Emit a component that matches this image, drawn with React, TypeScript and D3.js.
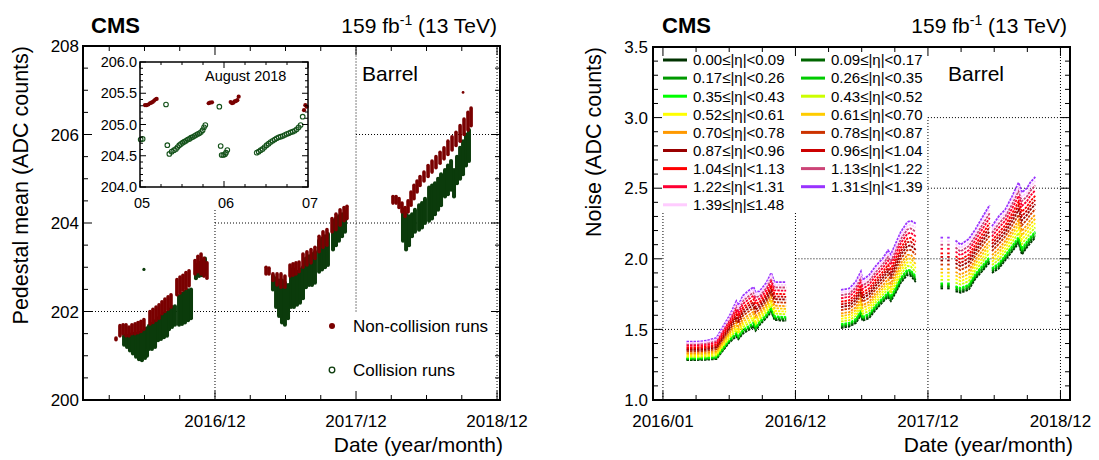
import React from "react";
import * as d3 from "d3";

type Streak = [number, number, number]; // [decimal year, low ADC, high ADC]
type Pt = [number, number];

const FONT = "'Liberation Sans', Arial, Helvetica, sans-serif";
const RED = "#7a0000";
const GREEN = "#0b3b0b";

// ---------------- Left panel: pedestal mean vs date ----------------
const leftYMajor = [200, 202, 204, 206, 208];
const leftXMajorYears = [2017, 2018, 2019];
const leftXLabels = ["2016/12", "2017/12", "2018/12"];

const collisionStreaks: Streak[] = [
  // 2016
  [2016.355, 201.25, 201.45], [2016.376, 201.2, 201.45], [2016.397, 201.12, 201.48], [2016.418, 201.05, 201.5],
  [2016.44, 200.98, 201.5], [2016.461, 200.92, 201.52], [2016.482, 200.9, 201.55], [2016.504, 200.95, 201.6],
  [2016.518, 201.0, 201.62], [2016.532, 201.15, 201.68], [2016.553, 201.15, 201.72], [2016.575, 201.2, 201.78],
  [2016.596, 201.35, 201.85], [2016.617, 201.38, 201.9], [2016.638, 201.42, 201.95], [2016.66, 201.45, 201.98],
  [2016.674, 201.6, 202.05], [2016.695, 201.65, 202.1], [2016.716, 201.7, 202.12],
  [2016.745, 201.7, 202.35], [2016.766, 201.72, 202.4], [2016.787, 201.75, 202.45], [2016.809, 201.8, 202.48], [2016.83, 201.85, 202.5],
  [2016.865, 202.75, 203.05], [2016.887, 202.8, 203.1], [2016.908, 202.82, 203.15], [2016.929, 202.85, 203.2],
  // 2017
  [2017.411, 202.5, 202.8], [2017.433, 202.1, 202.75], [2017.454, 201.9, 202.7], [2017.475, 201.75, 202.7],
  [2017.496, 201.7, 202.65], [2017.518, 201.85, 202.6],
  [2017.539, 202.1, 202.95], [2017.56, 202.1, 202.95], [2017.582, 202.15, 202.9], [2017.603, 202.2, 202.95], [2017.624, 202.3, 203.0],
  [2017.645, 202.55, 203.2], [2017.667, 202.6, 203.25], [2017.688, 202.6, 203.3], [2017.709, 202.65, 203.35],
  [2017.738, 202.9, 203.6], [2017.759, 202.95, 203.65], [2017.78, 203.0, 203.7], [2017.801, 203.05, 203.75],
  [2017.837, 203.4, 204.05], [2017.858, 203.5, 204.1], [2017.879, 203.6, 204.15], [2017.901, 203.7, 204.2], [2017.922, 203.8, 204.25],
  // 2018
  [2018.333, 203.6, 204.3], [2018.355, 203.4, 204.2], [2018.376, 203.5, 204.15], [2018.397, 203.7, 204.2],
  [2018.418, 203.8, 204.3], [2018.447, 203.85, 204.4], [2018.468, 203.9, 204.45], [2018.489, 204.0, 204.55],
  [2018.518, 204.05, 204.8], [2018.539, 204.1, 204.85], [2018.56, 204.2, 204.9], [2018.582, 204.3, 205.0],
  [2018.603, 204.4, 205.1], [2018.631, 204.6, 205.2], [2018.652, 204.65, 205.3], [2018.674, 204.75, 205.4],
  [2018.695, 204.6, 205.2], [2018.716, 204.9, 205.5], [2018.738, 205.0, 205.7], [2018.759, 205.1, 205.85],
  [2018.78, 205.3, 206.0], [2018.801, 205.4, 206.1],
];

const nonCollisionStreaks: Streak[] = [
  // 2016
  [2016.298, 201.36, 201.4], [2016.326, 201.45, 201.68], [2016.348, 201.5, 201.7], [2016.369, 201.45, 201.7],
  [2016.39, 201.45, 201.65], [2016.411, 201.5, 201.7], [2016.433, 201.5, 201.72], [2016.454, 201.52, 201.75],
  [2016.475, 201.55, 201.78], [2016.496, 201.6, 201.82], [2016.539, 201.72, 202.0], [2016.56, 201.75, 202.05],
  [2016.582, 201.8, 202.1], [2016.603, 201.85, 202.15], [2016.624, 201.95, 202.22], [2016.645, 202.0, 202.28],
  [2016.667, 202.05, 202.33], [2016.688, 202.1, 202.38], [2016.73, 202.38, 202.72], [2016.752, 202.42, 202.78],
  [2016.773, 202.48, 202.82], [2016.794, 202.52, 202.88], [2016.816, 202.58, 202.92], [2016.858, 202.85, 203.15],
  [2016.879, 202.9, 203.25], [2016.901, 202.85, 203.3], [2016.922, 202.8, 203.2], [2016.943, 202.75, 203.1],
  // 2017
  [2017.362, 202.85, 203.0], [2017.383, 202.85, 202.98], [2017.411, 202.7, 202.85], [2017.44, 202.6, 202.85],
  [2017.468, 202.55, 202.85], [2017.496, 202.55, 202.8], [2017.532, 202.8, 203.05], [2017.553, 202.82, 203.08],
  [2017.574, 202.85, 203.1], [2017.596, 202.9, 203.12], [2017.624, 203.0, 203.3], [2017.652, 203.05, 203.35],
  [2017.681, 203.1, 203.4], [2017.709, 203.2, 203.45], [2017.738, 203.35, 203.7], [2017.766, 203.45, 203.8],
  [2017.794, 203.5, 203.85], [2017.83, 203.8, 204.1], [2017.858, 203.85, 204.2], [2017.887, 203.95, 204.3],
  [2017.915, 204.05, 204.35], [2017.936, 204.1, 204.38],
  // 2018
  [2018.262, 204.45, 204.6], [2018.284, 204.45, 204.6], [2018.305, 204.35, 204.55], [2018.326, 204.25, 204.45],
  [2018.348, 204.15, 204.35], [2018.369, 204.25, 204.5], [2018.39, 204.4, 204.7], [2018.411, 204.55, 204.85],
  [2018.433, 204.7, 204.95], [2018.454, 204.85, 205.05], [2018.482, 204.95, 205.15], [2018.511, 205.05, 205.3],
  [2018.539, 205.15, 205.4], [2018.567, 205.25, 205.5], [2018.596, 205.35, 205.6], [2018.624, 205.45, 205.7],
  [2018.652, 205.55, 205.85], [2018.681, 205.65, 205.95], [2018.709, 205.75, 206.05], [2018.738, 205.85, 206.2],
  [2018.766, 206.0, 206.35], [2018.794, 206.1, 206.5], [2018.816, 206.2, 206.6],
];
const collisionOutliers: Pt[] = [[2016.496, 202.95]];
const nonCollisionOutliers: Pt[] = [[2018.759, 206.95]];

// dotted grid segments [x1, y1, x2, y2] in data units
const leftGrid: [number, number, number, number][] = [
  [2016.064, 202, 2017.68, 202],
  [2017, 200, 2017, 204.3],
  [2017, 204, 2019.021, 204],
  [2018, 202, 2018, 208],
  [2018, 206, 2019.021, 206],
  [2019, 200, 2019, 208],
];

// ---------------- Inset: August 2018 ----------------
const insetYMajor = [204.0, 204.5, 205.0, 205.5, 206.0];
const insetYLabels = ["204.0", "204.5", "205.0", "205.5", "206.0"];
const insetXMajorHours = [0, 24, 48];
const insetXLabels = ["05", "06", "07"];
const insetCollision: Pt[] = [
  [0.19, 204.76], [0.76, 204.77], [7.43, 205.32], [7.81, 204.67], [8.38, 204.53], [9.05, 204.565], [9.71, 204.59],
  [10.29, 204.61], [10.76, 204.64], [11.24, 204.67], [11.71, 204.69], [12.19, 204.71], [12.67, 204.725], [13.14, 204.74],
  [13.62, 204.76], [14.1, 204.77], [14.57, 204.79], [15.05, 204.8], [15.52, 204.816], [16.0, 204.832], [16.48, 204.848],
  [16.95, 204.859], [17.43, 204.88], [17.9, 204.91], [18.29, 204.955], [18.67, 204.992],
  [22.67, 205.285], [23.05, 204.656], [23.33, 204.512], [23.81, 204.512], [24.29, 204.523], [24.57, 204.549], [24.95, 204.592],
  [33.33, 204.549], [33.9, 204.565], [34.48, 204.59], [35.05, 204.61], [35.62, 204.64], [36.19, 204.67], [36.76, 204.693],
  [37.33, 204.72], [37.9, 204.74], [38.48, 204.76], [39.05, 204.78], [39.62, 204.795], [40.19, 204.805], [40.76, 204.816],
  [41.33, 204.832], [41.9, 204.848], [42.48, 204.859], [43.05, 204.875], [43.62, 204.885], [44.19, 204.9], [44.76, 204.923],
  [45.33, 204.955], [45.9, 204.992], [46.48, 205.125],
];
const insetNonCollision: Pt[] = [
  [1.43, 205.31], [1.9, 205.31], [2.38, 205.32], [2.86, 205.34], [3.24, 205.35], [3.62, 205.36], [4.0, 205.38],
  [4.38, 205.4], [4.76, 205.41], [19.62, 205.34], [20.0, 205.35], [20.57, 205.355],
  [25.9, 205.36], [26.29, 205.34], [26.67, 205.35], [27.05, 205.37], [27.43, 205.375], [27.81, 205.39], [28.19, 205.445],
  [46.86, 205.23], [47.24, 205.31], [47.62, 205.285],
];

// ---------------- Right panel: noise vs date ----------------
const rightYMajor = [1.0, 1.5, 2.0, 2.5, 3.0, 3.5];
const rightYLabels = ["1.0", "1.5", "2.0", "2.5", "3.0", "3.5"];
const rightXMajorYears = [2016, 2017, 2018, 2019];
const rightXLabels = ["2016/01", "2016/12", "2017/12", "2018/12"];

const etaBins = [
  "0.00≤|η|<0.09", "0.09≤|η|<0.17", "0.17≤|η|<0.26", "0.26≤|η|<0.35", "0.35≤|η|<0.43", "0.43≤|η|<0.52",
  "0.52≤|η|<0.61", "0.61≤|η|<0.70", "0.70≤|η|<0.78", "0.78≤|η|<0.87", "0.87≤|η|<0.96", "0.96≤|η|<1.04",
  "1.04≤|η|<1.13", "1.13≤|η|<1.22", "1.22≤|η|<1.31", "1.31≤|η|<1.39", "1.39≤|η|≤1.48",
];
const etaColors = [
  "#003300", "#006600", "#009900", "#00cc00", "#00ff00", "#ccff00",
  "#ffff00", "#ffcc00", "#ff9900", "#cc3300", "#990000", "#cc0000",
  "#ff0000", "#cc4477", "#ff0033", "#9933ff", "#ffccff",
];
// relative level of each bin between the lowest and highest curve
const etaLevel = [0.0, 0.03, 0.05, 0.08, 0.1, 0.17, 0.24, 0.31, 0.38, 0.47, 0.55, 0.62, 0.69, 0.86, 0.78, 1.0, 0.93];

const noiseSegments: { t: number[]; low: number[]; high: number[] }[] = [
  {
    t: [2016.178, 2016.253, 2016.329, 2016.404, 2016.453, 2016.504, 2016.554, 2016.569, 2016.604, 2016.654, 2016.684, 2016.699, 2016.729, 2016.78, 2016.817, 2016.842, 2016.93],
    low: [1.283, 1.283, 1.285, 1.29, 1.35, 1.41, 1.45, 1.43, 1.47, 1.5, 1.52, 1.49, 1.53, 1.58, 1.625, 1.567, 1.56],
    high: [1.413, 1.413, 1.42, 1.44, 1.52, 1.6, 1.7, 1.67, 1.74, 1.78, 1.8, 1.765, 1.77, 1.83, 1.9, 1.835, 1.835],
  },
  {
    t: [2017.344, 2017.406, 2017.456, 2017.494, 2017.506, 2017.556, 2017.607, 2017.656, 2017.699, 2017.72, 2017.757, 2017.795, 2017.844, 2017.87, 2017.908],
    low: [1.51, 1.52, 1.545, 1.6, 1.56, 1.58, 1.64, 1.69, 1.73, 1.7, 1.76, 1.83, 1.885, 1.88, 1.835],
    high: [1.78, 1.79, 1.84, 1.91, 1.85, 1.885, 1.95, 2.0, 2.06, 2.03, 2.11, 2.19, 2.26, 2.27, 2.25],
  },
  { t: [2018.095, 2018.12], low: [1.79, 1.79], high: [2.15, 2.15] },
  { t: [2018.145, 2018.171], low: [1.79, 1.79], high: [2.15, 2.15] },
  {
    t: [2018.208, 2018.246, 2018.308, 2018.359, 2018.408, 2018.453, 2018.466],
    low: [1.77, 1.76, 1.78, 1.86, 1.91, 1.96, 1.97],
    high: [2.13, 2.1, 2.14, 2.21, 2.29, 2.36, 2.38],
  },
  {
    t: [2018.483, 2018.534, 2018.584, 2018.634, 2018.684, 2018.709, 2018.747, 2018.772, 2018.81],
    low: [1.9, 1.93, 1.99, 2.05, 2.11, 2.03, 2.08, 2.11, 2.15],
    high: [2.23, 2.3, 2.35, 2.44, 2.54, 2.47, 2.5, 2.54, 2.58],
  },
];

const rightGrid: [number, number, number, number][] = [
  [2016, 1.0, 2016, 2.33],
  [2015.925, 1.5, 2019.072, 1.5],
  [2017, 1.0, 2017, 2.33],
  [2017, 2.0, 2019.072, 2.0],
  [2018, 1.0, 2018, 3.0],
  [2018, 2.5, 2019.072, 2.5],
  [2018, 3.0, 2019.072, 3.0],
  [2019, 1.0, 2019, 3.5],
];

// ---------------- helpers ----------------
function tickPath(
  xs: (v: number) => number, ys: (v: number) => number,
  x0: number, x1: number, y0: number, y1: number,
  xMaj: number[], xMin: number[], yMaj: number[], yMin: number[],
  maj: number, min: number
) {
  let p = "";
  xMaj.forEach((v) => { const x = xs(v); p += `M${x},${y1}v${-maj}M${x},${y0}v${maj}`; });
  xMin.forEach((v) => { const x = xs(v); p += `M${x},${y1}v${-min}M${x},${y0}v${min}`; });
  yMaj.forEach((v) => { const y = ys(v); p += `M${x0},${y}h${maj}M${x1},${y}h${-maj}`; });
  yMin.forEach((v) => { const y = ys(v); p += `M${x0},${y}h${min}M${x1},${y}h${-min}`; });
  return p;
}

export default function App() {
  // left panel geometry
  const L = { x0: 83, x1: 500, y0: 46, y1: 400 };
  const lx = d3.scaleLinear().domain([2016.064, 2019.021]).range([L.x0, L.x1]);
  const ly = d3.scaleLinear().domain([200, 208]).range([L.y1, L.y0]);
  const lxMinor = d3.range(2016.25, 2019.0, 0.25).filter((v) => Math.abs(v - Math.round(v)) > 0.01);
  const lyMinor = d3.range(200.5, 208, 0.5).filter((v) => Math.abs(v / 2 - Math.round(v / 2)) > 0.01);

  // inset geometry
  const I = { x0: 140, x1: 308, y0: 62, y1: 187 };
  const ix = d3.scaleLinear().domain([0, 48]).range([I.x0, I.x1]);
  const iy = d3.scaleLinear().domain([204, 206]).range([I.y1, I.y0]);
  const ixMinor = d3.range(6, 48, 6).filter((v) => v !== 24);
  const iyMinor = d3.range(204.1, 206, 0.1).filter((v) => Math.abs(v * 2 - Math.round(v * 2)) > 0.01);

  // right panel geometry
  const R = { x0: 653, x1: 1070, y0: 47, y1: 400 };
  const rx = d3.scaleLinear().domain([2015.925, 2019.072]).range([R.x0, R.x1]);
  const ry = d3.scaleLinear().domain([1.0, 3.5]).range([R.y1, R.y0]);
  const rxMinor = d3.range(2016.25, 2019.0, 0.25).filter((v) => Math.abs(v - Math.round(v)) > 0.01);
  const ryMinor = d3.range(1.1, 3.5, 0.1).filter((v) => Math.abs(v * 2 - Math.round(v * 2)) > 0.01);

  const line = d3.line<[number, number]>().x((d) => rx(d[0])).y((d) => ry(d[1]));

  const gridStyle = { stroke: "#000", strokeWidth: 1, strokeDasharray: "1 2", fill: "none" } as const;

  return (
    <svg width={1099} height={460} style={{ position: "absolute", left: 0, top: 0, background: "#fff" }} fontFamily={FONT}>
      <rect x={0} y={0} width={1099} height={460} fill="#fff" />

      {/* ================= LEFT PANEL ================= */}
      {leftGrid.map((g, i) => (
        <line key={"lg" + i} x1={lx(g[0])} y1={ly(g[1])} x2={lx(g[2])} y2={ly(g[3])} {...gridStyle} />
      ))}

      {collisionStreaks.map(([t, lo, hi], i) => (
        <line key={"cs" + i} x1={lx(t)} x2={lx(t)} y1={ly(lo)} y2={ly(hi)} stroke={GREEN} strokeWidth={4} strokeLinecap="round" />
      ))}
      {collisionOutliers.map(([t, v], i) => (
        <circle key={"co" + i} cx={lx(t)} cy={ly(v)} r={1.6} fill={GREEN} />
      ))}
      {nonCollisionStreaks.map(([t, lo, hi], i) => (
        <line key={"ns" + i} x1={lx(t)} x2={lx(t)} y1={ly(lo)} y2={ly(hi)} stroke={RED} strokeWidth={3.6} strokeLinecap="round" />
      ))}
      {nonCollisionOutliers.map(([t, v], i) => (
        <circle key={"no" + i} cx={lx(t)} cy={ly(v)} r={1.4} fill={RED} />
      ))}

      <path d={tickPath(lx, ly, L.x0, L.x1, L.y0, L.y1, leftXMajorYears, lxMinor, leftYMajor, lyMinor, 9, 5)} stroke="#000" strokeWidth={1} fill="none" />
      <rect x={L.x0} y={L.y0} width={L.x1 - L.x0} height={L.y1 - L.y0} fill="none" stroke="#000" strokeWidth={2} />

      {leftYMajor.map((v) => (
        <text key={"lyl" + v} x={79} y={ly(v)} dy="0.36em" textAnchor="end" fontSize={17}>{v}</text>
      ))}
      {leftXMajorYears.map((v, i) => (
        <text key={"lxl" + v} x={lx(v)} y={427} textAnchor="middle" fontSize={17}>{leftXLabels[i]}</text>
      ))}
      <text x={L.x1 + 3} y={452} textAnchor="end" fontSize={21}>Date (year/month)</text>
      <text transform={`translate(28,${L.y0}) rotate(-90)`} textAnchor="end" fontSize={21.5}>Pedestal mean (ADC counts)</text>
      <text x={91} y={33} fontSize={22} fontWeight="bold">CMS</text>
      <text x={497} y={33} textAnchor="end" fontSize={21}>
        159 fb<tspan dy={-8} fontSize={14}>-1</tspan><tspan dy={8}> (13 TeV)</tspan>
      </text>
      <text x={362} y={81} fontSize={21}>Barrel</text>

      {/* legend */}
      <circle cx={332} cy={326} r={3} fill={RED} />
      <text x={353} y={332} fontSize={17}>Non-collision runs</text>
      <circle cx={332} cy={370} r={2.8} fill="none" stroke={GREEN} strokeWidth={1.3} />
      <text x={353} y={376} fontSize={17}>Collision runs</text>

      {/* inset */}
      <rect x={I.x0} y={I.y0} width={I.x1 - I.x0} height={I.y1 - I.y0} fill="#fff" />
      {insetCollision.map(([h, v], i) => (
        <circle key={"ic" + i} cx={ix(h)} cy={iy(v)} r={2.3} fill="none" stroke="#14521a" strokeWidth={1.1} />
      ))}
      {insetNonCollision.map(([h, v], i) => (
        <circle key={"in" + i} cx={ix(h)} cy={iy(v)} r={2.1} fill={RED} />
      ))}
      <path d={tickPath(ix, iy, I.x0, I.x1, I.y0, I.y1, insetXMajorHours, ixMinor, insetYMajor, iyMinor, 6, 3)} stroke="#000" strokeWidth={1} fill="none" />
      <rect x={I.x0} y={I.y0} width={I.x1 - I.x0} height={I.y1 - I.y0} fill="none" stroke="#000" strokeWidth={1.5} />
      {insetYMajor.map((v, i) => (
        <text key={"iyl" + i} x={137} y={iy(v)} dy="0.36em" textAnchor="end" fontSize={14.5}>{insetYLabels[i]}</text>
      ))}
      {insetXMajorHours.map((h, i) => (
        <text key={"ixl" + i} x={ix(h) + 2} y={208} textAnchor="middle" fontSize={14.5}>{insetXLabels[i]}</text>
      ))}
      <text x={205} y={81} fontSize={14.5}>August 2018</text>

      {/* ================= RIGHT PANEL ================= */}
      {rightGrid.map((g, i) => (
        <line key={"rg" + i} x1={rx(g[0])} y1={ry(g[1])} x2={rx(g[2])} y2={ry(g[3])} {...gridStyle} />
      ))}

      {etaBins.map((_, b) =>
        noiseSegments.map((s, k) => {
          const pts: [number, number][] = s.t.map((t, j) => [t, s.low[j] + etaLevel[b] * (s.high[j] - s.low[j])]);
          return (
            <path key={`n${b}-${k}`} d={line(pts) || ""} fill="none" stroke={etaColors[b]} strokeWidth={1.8} strokeDasharray="2.5 1" />
          );
        })
      )}

      <path d={tickPath(rx, ry, R.x0, R.x1, R.y0, R.y1, rightXMajorYears, rxMinor, rightYMajor, ryMinor, 9, 5)} stroke="#000" strokeWidth={1} fill="none" />
      <rect x={R.x0} y={R.y0} width={R.x1 - R.x0} height={R.y1 - R.y0} fill="none" stroke="#000" strokeWidth={2} />

      {rightYMajor.map((v, i) => (
        <text key={"ryl" + i} x={648} y={ry(v)} dy="0.36em" textAnchor="end" fontSize={17}>{rightYLabels[i]}</text>
      ))}
      {rightXMajorYears.map((v, i) => (
        <text key={"rxl" + i} x={rx(v)} y={427} textAnchor="middle" fontSize={17}>{rightXLabels[i]}</text>
      ))}
      <text x={R.x1 + 3} y={452} textAnchor="end" fontSize={21}>Date (year/month)</text>
      <text transform={`translate(601,${R.y0}) rotate(-90)`} textAnchor="end" fontSize={21.5}>Noise (ADC counts)</text>
      <text x={662} y={33} fontSize={22} fontWeight="bold">CMS</text>
      <text x={R.x1 - 3} y={33} textAnchor="end" fontSize={21}>
        159 fb<tspan dy={-8} fontSize={14}>-1</tspan><tspan dy={8}> (13 TeV)</tspan>
      </text>
      <text x={948} y={81} fontSize={21}>Barrel</text>

      {/* eta legend */}
      {etaBins.map((lab, b) => {
        const col = b % 2;
        const row = Math.floor(b / 2);
        const cy = 60 + row * 18.1;
        const lx0 = col === 0 ? 663 : 801;
        return (
          <g key={"leg" + b}>
            <line x1={lx0} x2={lx0 + 24} y1={cy} y2={cy} stroke={etaColors[b]} strokeWidth={3} />
            <text x={lx0 + 30} y={cy + 5.3} fontSize={15}>{lab}</text>
          </g>
        );
      })}
    </svg>
  );
}
